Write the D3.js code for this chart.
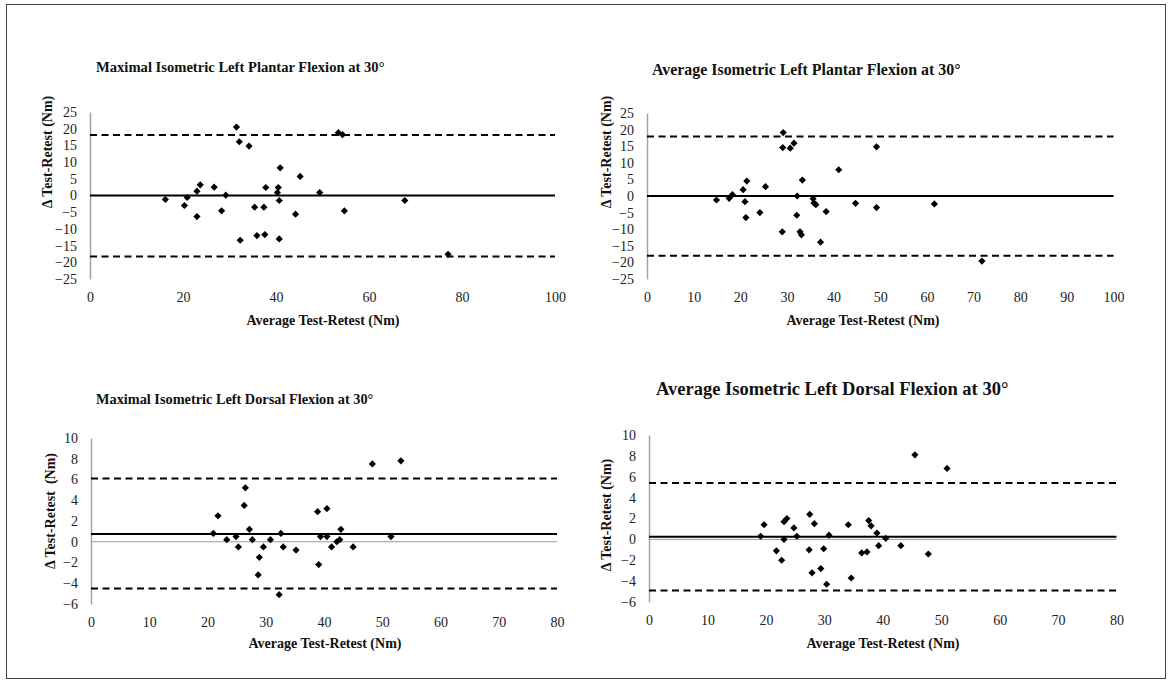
<!doctype html>
<html lang="en">
<head>
<meta charset="utf-8">
<script src="https://cdn.jsdelivr.net/npm/d3@7/dist/d3.min.js"></script>
<style>
  body {margin:0; background:#fff}
  svg {display:block}
  text {font-family:"Liberation Serif","Times New Roman",Times,serif; fill:#111}
  .title {font-weight:bold}
  .axis-title {font-size:14px; font-weight:bold}
  .tick text {font-size:14px; fill:#222}
</style>
<title>Bland-Altman plots</title>
</head>
<body>
<script>
// Maximal isometric left plantar flexion
const mpAvg  = [31.5,53.4,54.3,32.1,34.2,40.9,45.2,23.7,26.7,37.8,40.5,23.0,40.3,49.4,29.2,20.9,16.2,40.7,67.7,20.3,35.4,37.4,28.3,54.7,23.0,44.2,35.9,37.6,32.3,40.7,77.0];
const mpDiff = [20.5,18.8,18.2,16.1,14.8,8.3,5.7,3.2,2.5,2.4,2.4,1.3,0.9,0.9,0.1,-0.6,-1.2,-1.5,-1.5,-3.0,-3.5,-3.5,-4.6,-4.6,-6.3,-5.6,-12.0,-11.7,-13.4,-13.0,-17.6];
const mpLines = [0, 18.1, -18.3]; // bias, upper, lower

// Average isometric left plantar flexion
const apAvg  = [29.2,29.1,30.7,31.5,49.2,41.1,21.4,33.3,25.4,20.6,18.3,17.6,14.9,21.0,32.2,35.6,35.8,36.2,44.7,61.6,38.4,49.2,24.2,32.1,21.2,29.0,32.8,33.1,37.2,71.8];
const apDiff = [19.1,14.6,14.4,15.9,14.8,7.9,4.5,4.8,2.8,1.9,0.4,-0.7,-1.2,-1.7,0.0,-0.8,-2.1,-2.6,-2.2,-2.4,-4.7,-3.5,-5.0,-5.8,-6.5,-10.8,-10.8,-11.7,-13.9,-19.6];
const apLines = [0, 17.9, -18.0];

// Maximal isometric left dorsal flexion
const mdAvg  = [48.3,53.2,26.5,26.3,21.8,38.9,40.5,27.2,42.9,21.0,32.6,24.9,39.4,40.5,51.5,23.3,27.7,30.8,42.7,42.2,25.3,29.6,33.0,41.3,45.0,35.2,28.9,39.1,28.7,32.3];
const mdDiff = [7.5,7.8,5.2,3.5,2.5,2.9,3.2,1.2,1.2,0.8,0.8,0.5,0.5,0.5,0.5,0.2,0.2,0.2,0.2,0.0,-0.5,-0.5,-0.5,-0.5,-0.5,-0.8,-1.5,-2.2,-3.2,-5.1];
const mdLines = [0.75, 6.1, -4.5];

// Average isometric left dorsal flexion
const adAvg  = [45.5,51.0,27.5,37.6,23.6,23.1,19.7,28.3,34.1,38.0,24.8,39.0,19.1,25.3,30.8,40.5,23.1,21.8,27.4,29.9,39.3,43.1,36.4,37.3,47.8,22.7,29.4,27.9,34.6,30.4];
const adDiff = [8.1,6.8,2.4,1.8,2.0,1.7,1.4,1.5,1.4,1.3,1.1,0.6,0.3,0.3,0.4,0.1,0.0,-1.1,-1.0,-0.9,-0.6,-0.6,-1.3,-1.2,-1.4,-2.0,-2.8,-3.2,-3.7,-4.3];
const adLines = [0.25, 5.4, -4.9];

const W = 1172, H = 684;

let svg = d3.select("body").append("svg")
  .attr("width", W)
  .attr("height", H);

svg.append("rect")
  .attr("x", 6.5).attr("y", 4.5)
  .attr("width", 1159).attr("height", 674)
  .attr("fill", "none")
  .attr("stroke", "#444")
  .attr("stroke-width", 1);

const panels = [
  {title:"Maximal Isometric Left Plantar Flexion at 30°", avg:mpAvg, diff:mpDiff, lines:mpLines,
   xDom:[0,100], xStep:20, yDom:[-25,25], yStep:5, xRange:[90,555], yRange:[279,112],
   titlePos:[96,72], titleSize:14.6, yTitle:"Δ Test-Retest (Nm)", yTitlePos:[52,152], xTitlePos:[323,325]},
  {title:"Average Isometric Left Plantar Flexion at 30°", avg:apAvg, diff:apDiff, lines:apLines,
   xDom:[0,100], xStep:10, yDom:[-25,25], yStep:5, xRange:[647,1113.5], yRange:[279,113],
   titlePos:[652,75], titleSize:15.9, yTitle:"Δ Test-Retest (Nm)", yTitlePos:[611,152], xTitlePos:[863,325]},
  {title:"Maximal Isometric Left Dorsal Flexion at 30°", avg:mdAvg, diff:mdDiff, lines:mdLines,
   xDom:[0,80], xStep:10, yDom:[-6,10], yStep:2, xRange:[91,557], yRange:[604,438],
   titlePos:[96,404], titleSize:14.3, yTitle:"Δ Test-Retest  (Nm)", yTitlePos:[55,511], xTitlePos:[325,648]},
  {title:"Average Isometric Left Dorsal Flexion at 30°", avg:adAvg, diff:adDiff, lines:adLines,
   xDom:[0,80], xStep:10, yDom:[-6,10], yStep:2, xRange:[649,1116.5], yRange:[602,435],
   titlePos:[656,395], titleSize:18.5, yTitle:"Δ Test-Retest (Nm)", yTitlePos:[611,515], xTitlePos:[883,648]}
];

function drawPanel(p) {
  let x = d3.scaleLinear().domain(p.xDom).range(p.xRange);
  let y = d3.scaleLinear().domain(p.yDom).range(p.yRange);
  let g = svg.append("g");

  g.append("text").attr("class","title")
    .attr("x", p.titlePos[0]).attr("y", p.titlePos[1])
    .style("font-size", p.titleSize + "px")
    .text(p.title);

  // y axis: labels only, gray spine
  let yAxis = d3.axisLeft(y)
    .tickValues(d3.range(p.yDom[0], p.yDom[1] + p.yStep/2, p.yStep))
    .tickSize(0).tickPadding(13);
  let ya = g.append("g")
    .attr("transform","translate(" + p.xRange[0] + ",0)")
    .call(yAxis);
  ya.select(".domain").attr("stroke","#a8a39e").attr("stroke-width",1.5);

  // x axis labels sit below the plot
  let xAxis = d3.axisBottom(x)
    .tickValues(d3.range(p.xDom[0], p.xDom[1] + p.xStep/2, p.xStep))
    .tickSize(0).tickPadding(13);
  let xa = g.append("g")
    .attr("transform","translate(0," + p.yRange[0] + ")")
    .call(xAxis);
  xa.select(".domain").remove();

  // horizontal axis line at zero
  g.append("line")
    .attr("x1", x(p.xDom[0])).attr("x2", x(p.xDom[1]))
    .attr("y1", y(0)).attr("y2", y(0))
    .attr("stroke","#9a9a9a").attr("stroke-width",1);

  // bias and limits of agreement
  g.append("line")
    .attr("x1", x(p.xDom[0])).attr("x2", x(p.xDom[1]))
    .attr("y1", y(p.lines[0])).attr("y2", y(p.lines[0]))
    .attr("stroke","#000").attr("stroke-width",2);
  g.selectAll(".loa")
    .data(p.lines.slice(1))
    .enter().append("line")
    .attr("class","loa")
    .attr("x1", x(p.xDom[0])).attr("x2", x(p.xDom[1]))
    .attr("y1", d => y(d)).attr("y2", d => y(d))
    .attr("stroke","#000").attr("stroke-width",2)
    .attr("stroke-dasharray","7,4.5");

  g.selectAll(".pt")
    .data(p.avg.map((a,i) => [a, p.diff[i]]))
    .enter().append("path")
    .attr("class","pt")
    .attr("d","M0,-3.6L3.6,0L0,3.6L-3.6,0Z")
    .attr("fill","#000")
    .attr("transform", d => "translate(" + x(d[0]) + "," + y(d[1]) + ")");

  g.append("text").attr("class","axis-title")
    .attr("text-anchor","middle")
    .attr("x", p.xTitlePos[0]).attr("y", p.xTitlePos[1])
    .text("Average Test-Retest (Nm)");

  g.append("text").attr("class","axis-title")
    .attr("text-anchor","middle")
    .attr("transform","translate(" + p.yTitlePos[0] + "," + p.yTitlePos[1] + ") rotate(-90)")
    .style("white-space","pre")
    .text(p.yTitle);
}

panels.forEach(drawPanel);
</script>
</body>
</html>
